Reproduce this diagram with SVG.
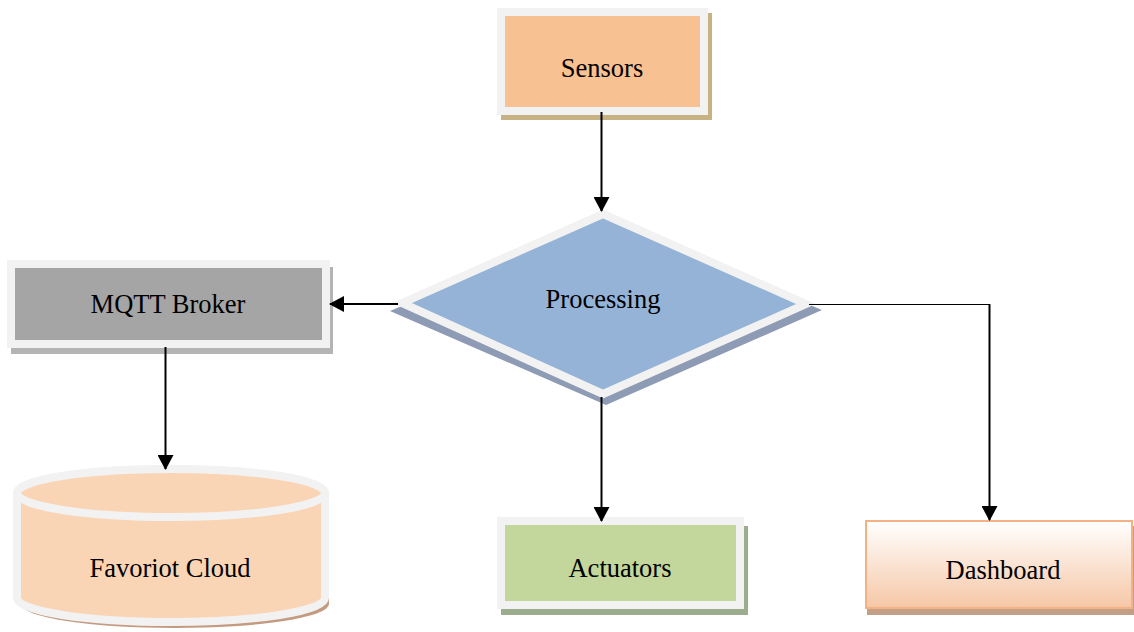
<svg xmlns="http://www.w3.org/2000/svg" width="1134" height="632" viewBox="0 0 1134 632">
<defs>
<style>
.lbl{font-family:"Liberation Serif","Times New Roman",serif;font-size:26.5px;fill:#000;text-anchor:middle}
.frame{stroke:#f2f2f2;stroke-width:8}
.conn{fill:none;stroke:#000;stroke-width:2}
.thin{stroke-width:1.2}
</style>
<linearGradient id="dash" x1="0" y1="0" x2="0" y2="1">
<stop offset="0" stop-color="#ffffff"/>
<stop offset="1" stop-color="#f6c7a6"/>
</linearGradient>
<marker id="arr" markerUnits="userSpaceOnUse" markerWidth="16" markerHeight="16" viewBox="0 0 16 16" refX="14" refY="8" orient="auto">
<path d="M0,0 L15,8 L0,16 Z" fill="#000"/>
</marker>
</defs>
<rect width="1134" height="632" fill="#fff"/>

<g id="sensors">
<rect x="501" y="13" width="211" height="107" fill="#c6b283"/>
<rect x="501" y="12" width="203" height="99" fill="#f8c192" class="frame"/>
<text x="602" y="77" class="lbl">Sensors</text>
</g>

<g id="processing">
<polygon points="606,220 390,311 606,405 822,310" fill="#8e9bb5"/>
<polygon points="603,214 402,303 603,394 806,304" fill="#95b3d7" class="frame"/>
<text x="603" y="308" class="lbl">Processing</text>
</g>

<g id="mqtt">
<rect x="11" y="267" width="322" height="87" fill="#b4b4b4"/>
<rect x="11" y="264" width="315" height="80" fill="#a5a5a5" class="frame"/>
<text x="168" y="313" class="lbl">MQTT Broker</text>
</g>

<g id="favoriot">
<path d="M21 497 A154 24 0 0 1 329 497 L329 604 A154 24 0 0 1 21 604 Z" fill="#c49a80"/>
<path d="M17 493 A154 24 0 0 1 325 493 L325 598 A154 24 0 0 1 17 598 Z" fill="#f9d5b5" class="frame"/>
<ellipse cx="171" cy="493" rx="154" ry="24" fill="#f9d5b5" class="frame"/>
<text x="170" y="577" class="lbl">Favoriot Cloud</text>
</g>

<g id="actuators">
<rect x="501" y="526" width="247" height="89" fill="#9cad8e"/>
<rect x="501" y="521" width="239" height="84" fill="#c3d69b" class="frame"/>
<text x="620" y="577" class="lbl">Actuators</text>
</g>

<g id="dashboard">
<rect x="867" y="526" width="267" height="89" fill="#c49f88"/>
<rect x="866" y="521" width="266" height="87" fill="url(#dash)" stroke="#f4b183" stroke-width="2"/>
<text x="1003" y="579" class="lbl">Dashboard</text>
</g>

<g id="connectors">
<line x1="601.5" y1="112" x2="601.5" y2="211" class="conn" marker-end="url(#arr)"/>
<line x1="398" y1="304" x2="330" y2="304" class="conn" marker-end="url(#arr)"/>
<line x1="165.5" y1="347" x2="165.5" y2="469" class="conn" marker-end="url(#arr)"/>
<line x1="601.5" y1="397" x2="601.5" y2="521" class="conn" marker-end="url(#arr)"/>
<polyline points="809,304.5 989.5,304.5" class="conn thin"/>
<polyline points="989.5,304 989.5,520" class="conn" marker-end="url(#arr)"/>
</g>
</svg>
